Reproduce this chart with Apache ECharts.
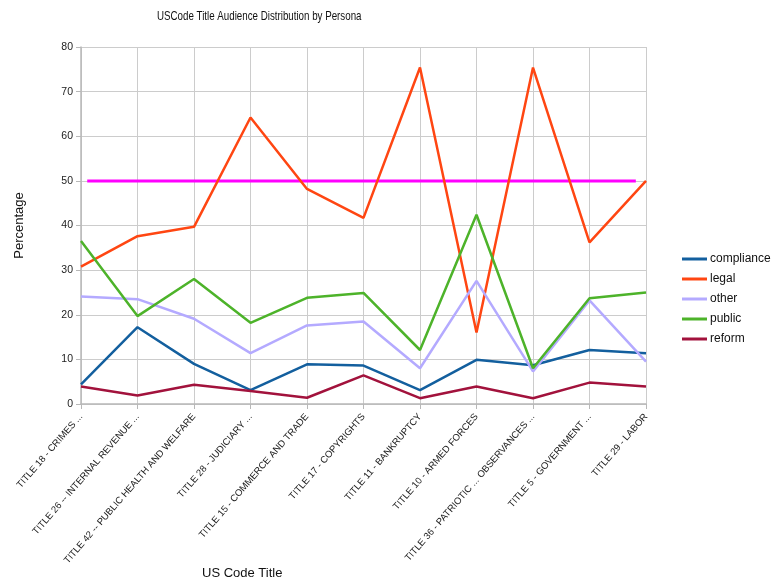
<!DOCTYPE html>
<html>
<head>
<meta charset="utf-8">
<script src="https://cdn.jsdelivr.net/npm/echarts@6/dist/echarts.min.js"></script>
<style>
  html, body { margin: 0; padding: 0; background: #fff; }
  #chart { width: 771px; height: 586px; }
</style>
</head>
<body>
<div id="chart"></div>
<script>
// US Code titles (category axis)
const titles = [
  'TITLE 18 - CRIMES ...',
  'TITLE 26 -- INTERNAL REVENUE ...',
  'TITLE 42 -- PUBLIC HEALTH AND WELFARE',
  'TITLE 28 - JUDICIARY ...',
  'TITLE 15 - COMMERCE AND TRADE',
  'TITLE 17 - COPYRIGHTS',
  'TITLE 11 - BANKRUPTCY',
  'TITLE 10 - ARMED FORCES',
  'TITLE 36 - PATRIOTIC ... OBSERVANCES ...',
  'TITLE 5 - GOVERNMENT ...',
  'TITLE 29 - LABOR'
];

// Audience share per persona (percent)
const compliance = [4.4, 17.2, 9.0, 3.1, 8.9, 8.6, 3.1, 9.9, 8.7, 12.1, 11.4];
const legal      = [30.8, 37.6, 39.7, 64.2, 48.2, 41.7, 75.4, 16.0, 75.4, 36.2, 50.0];
const other      = [24.1, 23.5, 19.1, 11.4, 17.6, 18.5, 8.0, 27.6, 7.3, 23.2, 9.5];
const publicSeg  = [36.5, 19.7, 28.0, 18.2, 23.8, 24.9, 12.1, 42.4, 8.0, 23.7, 25.0];
const reform     = [3.9, 1.9, 4.3, 2.9, 1.4, 6.4, 1.3, 3.9, 1.3, 4.8, 3.9];

// 50% reference level and the span (in category-index units) it covers
const referenceLevel = 50;
const referenceSpan = [0.11, 9.82];

// Value-axis ticks
const yTicks = { min: 0, max: 80, interval: 10 };

const FONT = 'Liberation Sans, Arial, sans-serif';

const chart = echarts.init(document.getElementById('chart'), null, { renderer: 'canvas' });

function personaSeries(name, data, color) {
  return {
    name: name,
    type: 'line',
    data: data,
    xAxisIndex: 0,
    showSymbol: false,
    symbol: 'none',
    lineStyle: { color: color, width: 2.5 },
    itemStyle: { color: color },
    emphasis: { disabled: true },
    animation: false
  };
}

chart.setOption({
  backgroundColor: '#ffffff',
  animation: false,
  legend: {
    orient: 'vertical',
    left: 682,
    top: 253,
    padding: 0,
    itemWidth: 25,
    itemHeight: 3,
    itemGap: 8,
    icon: 'rect',
    data: ['compliance', 'legal', 'other', 'public', 'reform'],
    textStyle: { fontFamily: FONT, fontSize: 12, color: '#111', padding: [0, 0, 0, -2] }
  },
  grid: { left: 81, right: 125, top: 47, bottom: 182, containLabel: false },
  xAxis: [
    {
      type: 'category',
      data: titles,
      boundaryGap: false,
      axisLine: { show: true, lineStyle: { color: '#b8b8b8', width: 1.5 } },
      axisTick: { show: true, length: 5, alignWithLabel: true, lineStyle: { color: '#b8b8b8' } },
      splitLine: { show: true, lineStyle: { color: '#cccccc', width: 1 } },
      axisLabel: {
        rotate: 49,
        interval: 0,
        margin: 11,
        fontFamily: FONT,
        fontSize: 9.5,
        color: '#222'
      }
    },
    {
      type: 'value',
      min: 0,
      max: titles.length - 1,
      show: false
    }
  ],
  yAxis: {
    type: 'value',
    min: yTicks.min,
    max: yTicks.max,
    interval: yTicks.interval,
    name: 'Percentage',
    nameLocation: 'middle',
    nameGap: 55,
    nameTextStyle: { fontFamily: FONT, fontSize: 13, color: '#111' },
    axisLine: { show: true, lineStyle: { color: '#b8b8b8', width: 1.5 } },
    axisTick: { show: true, length: 5, lineStyle: { color: '#b8b8b8' } },
    splitLine: { show: true, lineStyle: { color: '#cccccc', width: 1 } },
    axisLabel: { fontFamily: FONT, fontSize: 10.5, color: '#222', margin: 8 }
  },
  graphic: [
    {
      // Chart title, set in a condensed width
      type: 'text',
      x: 157,
      y: 10,
      scaleX: 0.75,
      style: {
        text: 'USCode Title Audience Distribution by Persona',
        font: '13px ' + FONT,
        fill: '#111'
      }
    },
    {
      type: 'text',
      left: 202,
      top: 567,
      style: { text: 'US Code Title', font: '13px ' + FONT, fill: '#111' }
    }
  ],
  series: [
    {
      name: '50%',
      type: 'line',
      xAxisIndex: 1,
      data: referenceSpan.map(function (x) { return [x, referenceLevel]; }),
      showSymbol: false,
      symbol: 'none',
      lineStyle: { color: '#ff00ff', width: 3 },
      emphasis: { disabled: true },
      z: 1
    },
    personaSeries('compliance', compliance, '#135f9e'),
    personaSeries('legal', legal, '#ff4612'),
    personaSeries('other', other, '#b4aaff'),
    personaSeries('public', publicSeg, '#4db32a'),
    personaSeries('reform', reform, '#a2123c')
  ]
});
</script>
</body>
</html>
